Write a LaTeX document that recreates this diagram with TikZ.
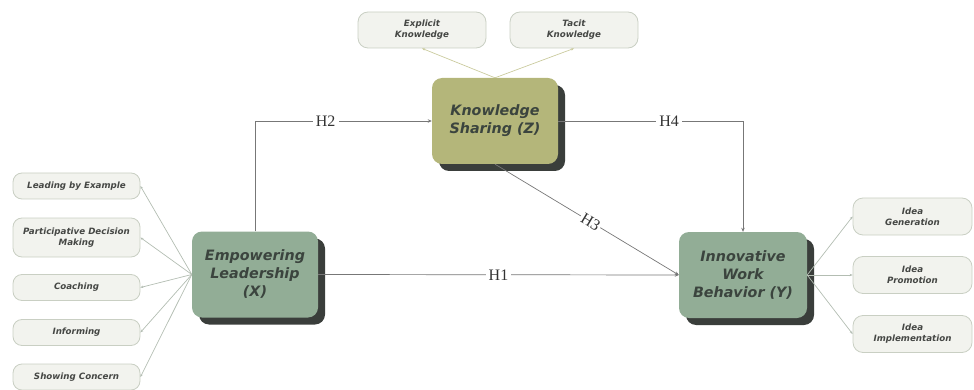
\documentclass[tikz,border=0pt]{standalone}
\usepackage{fontspec}
\setmainfont{DejaVu Sans}
\newfontfamily\serifH{Liberation Serif}
\usetikzlibrary{arrows.meta,shadows}
\definecolor{sage}{HTML}{92AD96}
\definecolor{olivebox}{HTML}{B4B67A}
\definecolor{shadowc}{HTML}{3A3E3B}
\definecolor{boxtext}{HTML}{3B443E}
\definecolor{smalltext}{HTML}{454744}
\definecolor{smallfill}{HTML}{F2F3EE}
\definecolor{smallline}{HTML}{C9CFC3}
\definecolor{subline}{HTML}{B3BDB2}
\definecolor{topline}{HTML}{CACB9E}
\definecolor{mainline}{HTML}{777777}
\begin{document}
\begin{tikzpicture}[x=1pt,y=-1pt,
  mainbox/.style={rounded corners=10pt, minimum width=126pt, minimum height=86pt,
    inner sep=0pt, align=center, font=\fontsize{14.3}{18}\selectfont\bfseries\itshape,
    text=boxtext, drop shadow={shadow xshift=7pt, shadow yshift=-7pt, fill=shadowc, opacity=1}},
  smallbox/.style={draw=smallline, fill=smallfill, rounded corners=9pt, minimum width=127pt,
    inner sep=2pt, align=center, font=\fontsize{8.7}{11}\selectfont\bfseries\itshape,
    text=smalltext, line width=0.8pt},
  hlabel/.style={fill=white, font=\serifH\fontsize{16}{16}\selectfont, text=black!80, inner sep=3pt},
  mainarrow/.style={draw=mainline, line width=0.7pt, -{Stealth[length=4pt,width=3.5pt]}},
  subarrow/.style={draw=#1, line width=0.7pt, -{Stealth[length=3pt,width=2.5pt]}}
]
\useasboundingbox (0,0) rectangle (974,390);

% main boxes
\node[mainbox, fill=sage] (X) at (255,274.5) {Empowering\\Leadership\\(X)};
\node[mainbox, fill=olivebox] (Z) at (495,121) {Knowledge\\Sharing (Z)};
\node[mainbox, fill=sage, minimum width=128pt] (Y) at (743,275) {Innovative\\Work\\Behavior (Y)};

% left boxes
\node[smallbox, minimum height=26pt] (L1) at (76.5,186) {Leading by Example};
\node[smallbox, minimum height=39pt] (L2) at (76.5,237.5) {Participative Decision\\Making};
\node[smallbox, minimum height=26pt] (L3) at (76.5,287.5) {Coaching};
\node[smallbox, minimum height=26pt] (L4) at (76.5,332.5) {Informing};
\node[smallbox, minimum height=26pt] (L5) at (76.5,377) {Showing Concern};

% top boxes
\node[smallbox, minimum width=128pt, minimum height=36pt, rounded corners=10pt] (T1) at (422,30) {Explicit\\Knowledge};
\node[smallbox, minimum width=128pt, minimum height=36pt, rounded corners=10pt] (T2) at (574,30) {Tacit\\Knowledge};

% right boxes
\node[smallbox, minimum width=119pt, minimum height=37pt, rounded corners=10pt] (R1) at (912.5,216.5) {Idea\\Generation};
\node[smallbox, minimum width=119pt, minimum height=37pt, rounded corners=10pt] (R2) at (912.5,275) {Idea\\Promotion};
\node[smallbox, minimum width=119pt, minimum height=37pt, rounded corners=10pt] (R3) at (912.5,334) {Idea\\Implementation};

% sub connectors
\foreach \n in {L1,L2,L3,L4,L5} \draw[subarrow=subline] (X.west) -- (\n.east);
\foreach \n in {T1,T2} \draw[subarrow=topline] (Z.north) -- (\n.south);
\foreach \n in {R1,R2,R3} \draw[subarrow=subline] (Y.east) -- (\n.west);

% hypotheses
\draw[mainarrow] (X.north) |- node[hlabel, pos=0.7] {H2} (Z.west);
\draw[mainarrow] (Z.east) -| node[hlabel, pos=0.3] {H4} (Y.north);
\draw[mainarrow] (Z.south) -- node[hlabel, sloped, pos=0.52, inner sep=1.5pt] {H3} (Y.west);
\draw[mainarrow] (X.east) -- node[hlabel, pos=0.5] {H1} (Y.west);
\end{tikzpicture}
\end{document}
